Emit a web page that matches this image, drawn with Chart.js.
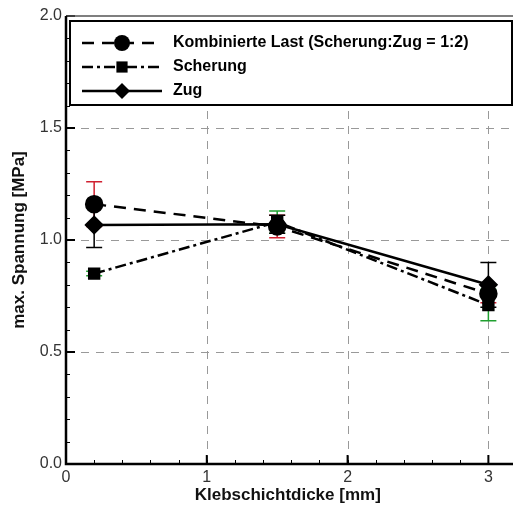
<!DOCTYPE html>
<html>
<head>
<meta charset="utf-8">
<script src="https://cdn.jsdelivr.net/npm/chart.js@4"></script>
<style>
  html, body { margin: 0; padding: 0; background: #fff; overflow: hidden; }
  #wrap { width: 520px; height: 507px; }
</style>
</head>
<body>
<div id="wrap"><canvas id="spannungChart" width="520" height="507"></canvas></div>
<script>
// Klebschichtdicke [mm]
const thickness = [0.2, 1.5, 3.0];

const seriesLabels = ['Kombinierte Last (Scherung:Zug = 1:2)', 'Scherung', 'Zug'];
const kombiniert = [1.16, 1.06, 0.76];
const scherung = [0.85, 1.08, 0.71];
const zug = [1.067, 1.07, 0.80];

// error bars (+/-)
const kombiniertErr = [0.10, 0.05, 0.04];
const scherungErr = [0.01, 0.05, 0.07];
const zugErr = [0.10, 0.04, 0.10];

const xTicks = [0, 1, 2, 3];
const yTicks = [0, 0.5, 1.0, 1.5, 2.0];

const errColors = ['#d02030', '#20a030', '#000000'];
const errors = [kombiniertErr, scherungErr, zugErr];

const font = "'Liberation Sans', Arial, sans-serif";

const toPoints = ys => thickness.map((x, i) => ({ x: x, y: ys[i] }));

// dashed grid + error bars under the markers
const errorBars = {
    id: 'errorBars',
    beforeDatasetsDraw(chart) {
        const ctx = chart.ctx;
        const a = chart.chartArea;
        const xs = chart.scales.x, ys = chart.scales.y;
        ctx.save();
        ctx.strokeStyle = '#999';
        ctx.lineWidth = 1;
        ctx.setLineDash([8, 7]);
        ctx.beginPath();
        xTicks.slice(1).forEach(v => {
            const px = Math.round(xs.getPixelForValue(v)) + 0.5;
            ctx.moveTo(px, a.bottom); ctx.lineTo(px, a.top);
        });
        yTicks.slice(1, -1).forEach(v => {
            const py = Math.round(ys.getPixelForValue(v)) + 0.5;
            ctx.moveTo(a.left, py); ctx.lineTo(chart.width, py);
        });
        ctx.stroke();
        ctx.setLineDash([]);
        chart.data.datasets.forEach((ds, i) => {
            ctx.strokeStyle = errColors[i];
            ctx.lineWidth = 1.5;
            ds.data.forEach((p, j) => {
                const e = errors[i][j];
                const px = xs.getPixelForValue(p.x);
                const top = ys.getPixelForValue(p.y + e);
                const bot = ys.getPixelForValue(p.y - e);
                ctx.beginPath();
                ctx.moveTo(px, top); ctx.lineTo(px, bot);
                ctx.moveTo(px - 8, top); ctx.lineTo(px + 8, top);
                ctx.moveTo(px - 8, bot); ctx.lineTo(px + 8, bot);
                ctx.stroke();
            });
        });
        ctx.restore();
    }
};

// frame and inward tick marks
const frame = {
    id: 'frame',
    afterDraw(chart) {
        const ctx = chart.ctx;
        const a = chart.chartArea;
        const xs = chart.scales.x, ys = chart.scales.y;
        const right = chart.width;
        ctx.save();
        ctx.strokeStyle = '#000';
        ctx.lineWidth = 1;
        ctx.beginPath();
        // minor ticks
        for (let v = 0; v <= 2.0001; v += 0.1) {
            const py = Math.round(ys.getPixelForValue(v)) + 0.5;
            ctx.moveTo(a.left, py); ctx.lineTo(a.left + 4, py);
        }
        for (let v = 0; v <= 3.2001; v += 0.2) {
            const px = Math.round(xs.getPixelForValue(v)) + 0.5;
            ctx.moveTo(px, a.bottom); ctx.lineTo(px, a.bottom - 4);
        }
        ctx.stroke();
        ctx.lineWidth = 2;
        ctx.beginPath();
        yTicks.forEach(v => {
            const py = ys.getPixelForValue(v);
            ctx.moveTo(a.left, py); ctx.lineTo(a.left + 9, py);
        });
        xTicks.forEach(v => {
            const px = xs.getPixelForValue(v);
            ctx.moveTo(px, a.bottom); ctx.lineTo(px, a.bottom - 9);
        });
        ctx.stroke();
        ctx.lineWidth = 1.5;
        ctx.strokeStyle = '#555';
        ctx.beginPath();
        ctx.moveTo(a.left, a.top); ctx.lineTo(right, a.top);
        ctx.stroke();
        ctx.lineWidth = 2.5;
        ctx.strokeStyle = '#000';
        ctx.beginPath();
        ctx.moveTo(a.left, a.top); ctx.lineTo(a.left, a.bottom); ctx.lineTo(right, a.bottom);
        ctx.stroke();
        ctx.restore();
    }
};

function marker(ctx, style, x, y, r) {
    ctx.beginPath();
    if (style === 'circle') {
        ctx.arc(x, y, r, 0, Math.PI * 2);
    } else if (style === 'rect') {
        ctx.rect(x - r * 0.8, y - r * 0.8, r * 1.6, r * 1.6);
    } else {
        ctx.moveTo(x, y - r); ctx.lineTo(x + r, y); ctx.lineTo(x, y + r); ctx.lineTo(x - r, y);
        ctx.closePath();
    }
    ctx.fill();
}

// legend box as in the original figure
const boxLegend = {
    id: 'boxLegend',
    afterDatasetsDraw(chart) {
        const ctx = chart.ctx;
        const a = chart.chartArea;
        const bx = a.left + 4, by = a.top + 5, bw = 442, bh = 84;
        ctx.save();
        ctx.fillStyle = '#fff';
        ctx.fillRect(bx, by, bw, bh);
        ctx.lineWidth = 2;
        ctx.strokeStyle = '#000';
        ctx.strokeRect(bx, by, bw, bh);
        chart.data.datasets.forEach((ds, i) => {
            const y = by + 22 + i * 24;
            ctx.strokeStyle = '#000';
            ctx.lineWidth = 2.5;
            ctx.setLineDash(ds.borderDash || []);
            ctx.beginPath();
            ctx.moveTo(bx + 12, y); ctx.lineTo(bx + 92, y);
            ctx.stroke();
            ctx.setLineDash([]);
            ctx.fillStyle = '#000';
            marker(ctx, ds.pointStyle, bx + 52, y, ds.pointRadius);
            ctx.font = 'bold 16px ' + font;
            ctx.textBaseline = 'middle';
            ctx.fillText(ds.label, bx + 103, y);
        });
        ctx.restore();
    }
};

const data = {
    datasets: [{
        label: seriesLabels[0],
        data: toPoints(kombiniert),
        borderColor: '#000',
        backgroundColor: '#000',
        borderWidth: 2.5,
        borderDash: [12, 8],
        pointStyle: 'circle',
        pointRadius: 8
    }, {
        label: seriesLabels[1],
        data: toPoints(scherung),
        borderColor: '#000',
        backgroundColor: '#000',
        borderWidth: 2.5,
        borderDash: [11, 4, 3, 4],
        pointStyle: 'rect',
        pointRadius: 7
    }, {
        label: seriesLabels[2],
        data: toPoints(zug),
        borderColor: '#000',
        backgroundColor: '#000',
        borderWidth: 2.5,
        pointStyle: 'rectRot',
        pointRadius: 8
    }]
};

const config = {
    type: 'line',
    data: data,
    options: {
        responsive: false,
        animation: false,
        layout: { padding: { top: 16, right: 0, left: 9, bottom: 0 } },
        plugins: { legend: { display: false }, tooltip: { enabled: false } },
        scales: {
            x: {
                type: 'linear',
                min: 0, max: 3.15,
                afterBuildTicks: s => { s.ticks = xTicks.map(v => ({ value: v })); },
                afterFit: s => { s.height = 43; },
                ticks: {
                    color: '#333',
                    font: { family: font, size: 16 },
                    padding: 4,
                    maxRotation: 0,
                    callback: v => String(v)
                },
                grid: { display: false, drawTicks: false },
                border: { display: false },
                title: {
                    display: true,
                    text: 'Klebschichtdicke [mm]',
                    color: '#111',
                    font: { family: font, size: 17, weight: 'bold' },
                    padding: { top: 0, bottom: 1 }
                }
            },
            y: {
                min: 0, max: 2.0,
                afterBuildTicks: s => { s.ticks = yTicks.map(v => ({ value: v })); },
                afterFit: s => { s.width = 57; },
                ticks: {
                    color: '#333',
                    font: { family: font, size: 16 },
                    padding: 4,
                    callback: v => Number(v).toFixed(1)
                },
                grid: { display: false, drawTicks: false },
                border: { display: false },
                title: {
                    display: true,
                    text: 'max. Spannung [MPa]',
                    color: '#111',
                    font: { family: font, size: 17, weight: 'bold' },
                    padding: { top: 0, bottom: 6 }
                }
            }
        }
    },
    plugins: [errorBars, frame, boxLegend]
};

new Chart(document.getElementById('spannungChart').getContext('2d'), config);
</script>
</body>
</html>
